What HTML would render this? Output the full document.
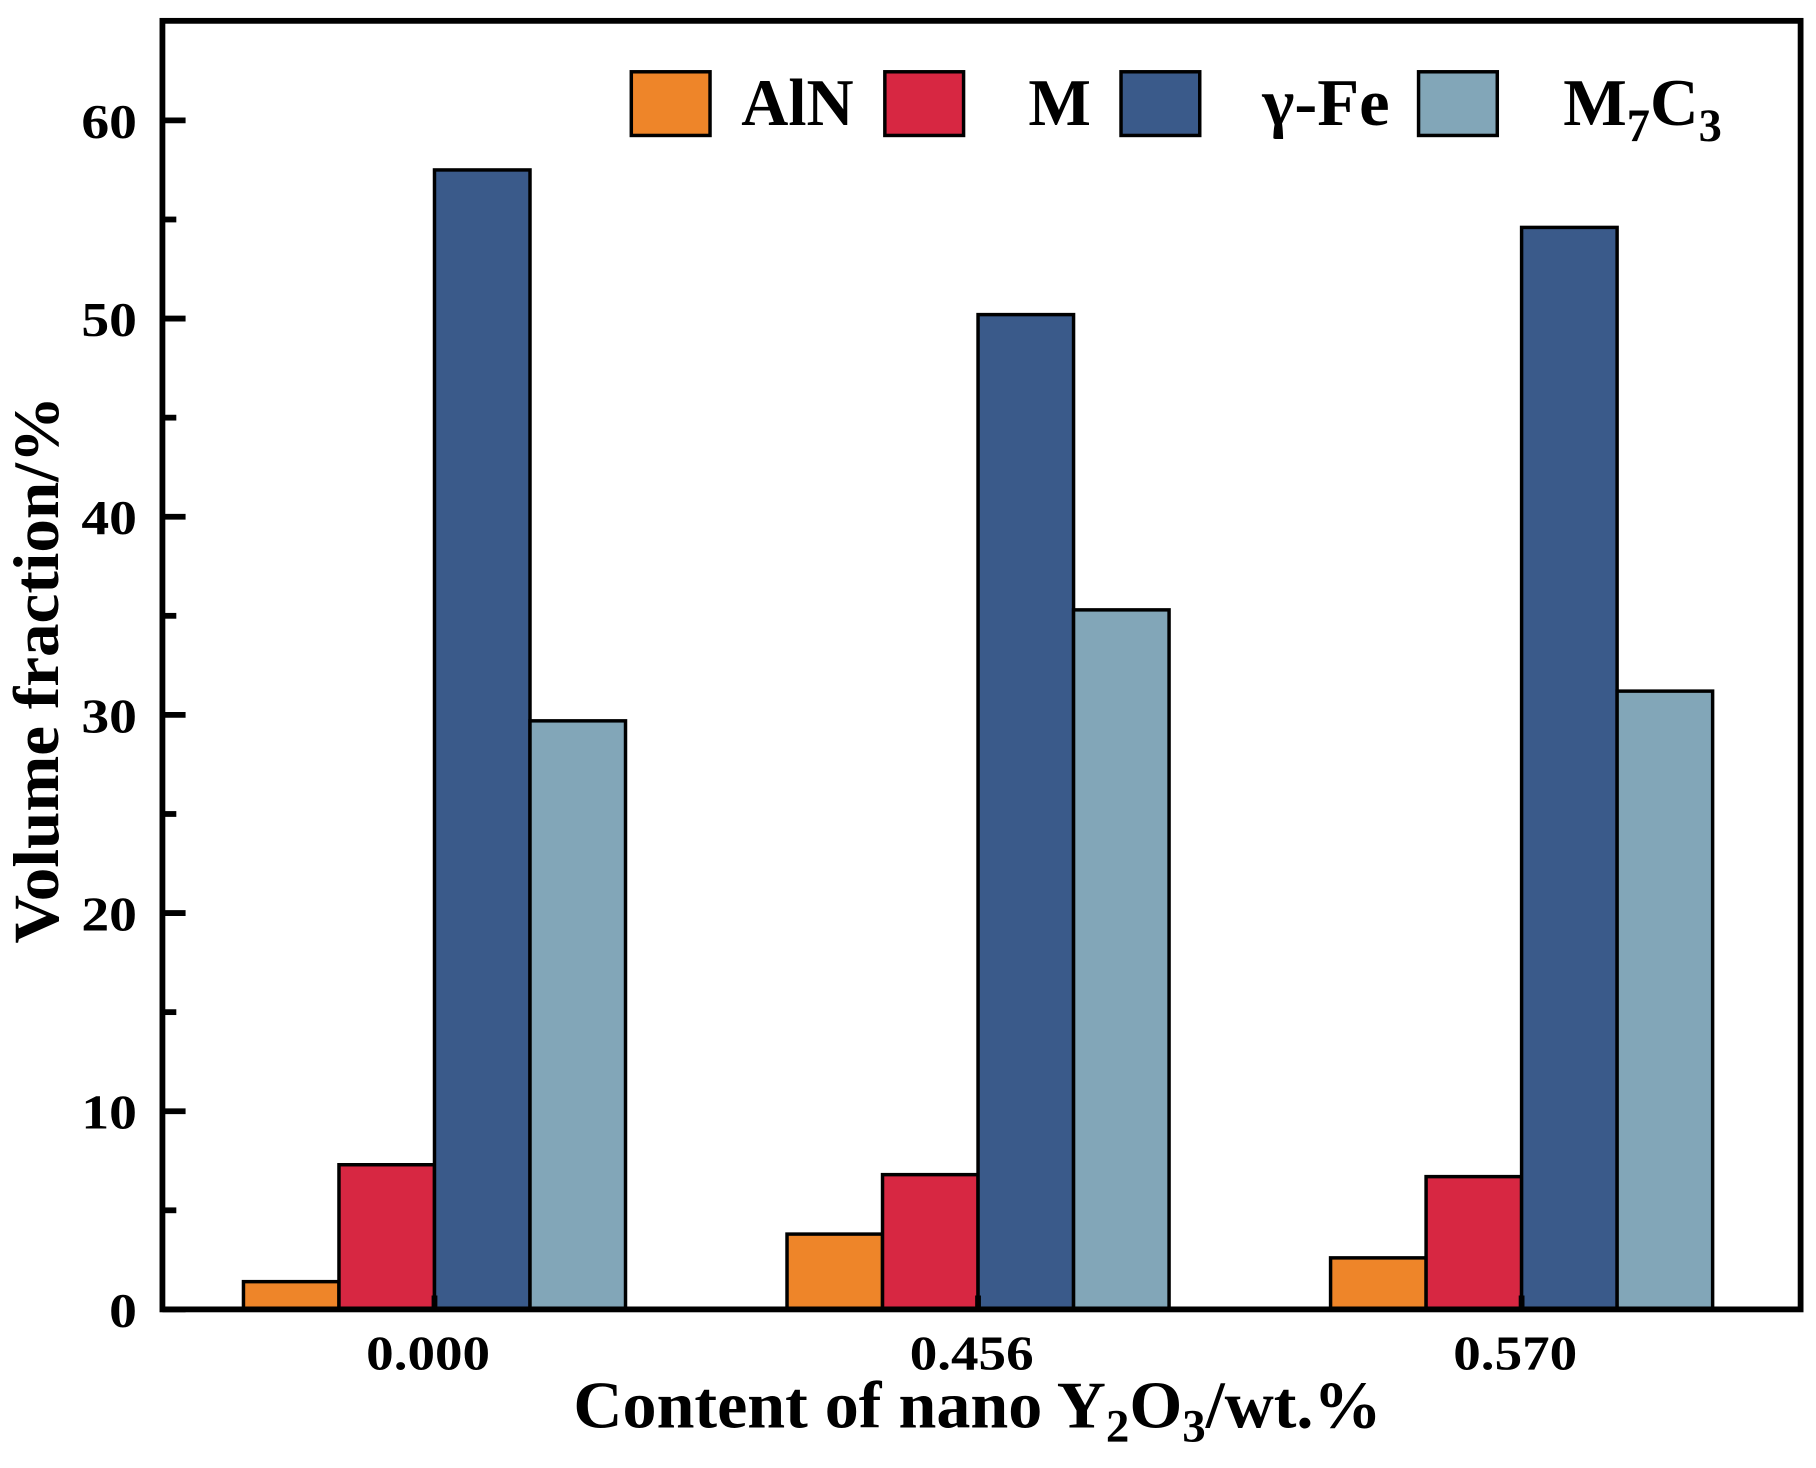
<!DOCTYPE html>
<html><head><meta charset="utf-8"><style>
html,body{margin:0;padding:0;background:#fff;}
svg{display:block;}
text{font-family:"Liberation Serif",serif;font-weight:bold;fill:#000;}
</style></head><body>
<svg id="chart" width="1816" height="1468" viewBox="0 0 1568 1268" xmlns="http://www.w3.org/2000/svg">
<g id="bars"></g>
<g id="axes"></g>
<g id="legend"></g>
</svg>
<script>
const categories = ["0.000", "0.456", "0.570"];
const seriesNames = ["AlN", "M", "γ-Fe", "M7C3"];
const alnValues = [1.4, 3.8, 2.6];
const mValues = [7.3, 6.8, 6.7];
const feValues = [57.5, 50.2, 54.6];
const m7c3Values = [29.7, 35.3, 31.2];
const yTicks = [0, 10, 20, 30, 40, 50, 60];
const colors = ["#EE8529", "#D72742", "#3A5A8A", "#82A6B8"];

const NS = "http://www.w3.org/2000/svg";
const L = 140, R = 1555, T = 18, B = 1131;
function yScale(v){ return B - v * (1131 - 104) / 60; }
const groupCenters0 = 375, groupStep = 469.5, barW = 82.5;
function xCenter(i){ return groupCenters0 + i * groupStep; }
function mk(tag, attrs, parent){ const e=document.createElementNS(NS,tag); for(const k in attrs) e.setAttribute(k, attrs[k]); parent.appendChild(e); return e; }

const series = [alnValues, mValues, feValues, m7c3Values];
const barsG = document.getElementById('bars');
series.forEach((vals, s) => {
  vals.forEach((v, i) => {
    const x = xCenter(i) + (s - 2) * barW;
    const r = mk('rect', {x: x, y: yScale(v), width: barW, height: yScale(0) - yScale(v), fill: colors[s], stroke: '#000', 'stroke-width': 3}, barsG);
    
    
  });
});

const ax = document.getElementById('axes');
const frame = mk('rect', {x: L, y: T, width: R - L, height: B - T, fill: 'none', stroke: '#000', 'stroke-width': 5}, ax);


yTicks.forEach(t => {
  const y = yScale(t);
  const tk = mk('line', {x1: L, x2: L + 20, y1: y, y2: y, stroke: '#000', 'stroke-width': 5}, ax);
  
  
  const s = String(t);
  const w = s.length * 24;
  const tl = mk('text', {x: 118 - w, y: y + 15, 'font-size': 42, textLength: w, lengthAdjust: 'spacingAndGlyphs'}, ax);
  tl.textContent = s;
  
  
  if (t < 60) {
    const mt = mk('line', {x1: L, x2: L + 12, y1: yScale(t + 5), y2: yScale(t + 5), stroke: '#000', 'stroke-width': 5}, ax);
    
    
  }
});
categories.forEach((c, i) => {
  const tk = mk('line', {x1: xCenter(i), x2: xCenter(i), y1: B, y2: B - 12, stroke: '#000', 'stroke-width': 5}, ax);
  
  
  const tl = mk('text', {x: xCenter(i) - 59, y: 1183, 'font-size': 42, textLength: 107, lengthAdjust: 'spacingAndGlyphs'}, ax);
  tl.textContent = c;
  
  
});
const xt = mk('text', {x: 495, y: 1233, 'font-size': 58, textLength: 698, lengthAdjust: 'spacingAndGlyphs'}, ax);
xt.innerHTML = 'Content of nano Y<tspan font-size="40" dy="12">2</tspan><tspan dy="-12">O</tspan><tspan font-size="40" dy="12">3</tspan><tspan dy="-12">/wt.%</tspan>';


const yt = mk('text', {x: -815, y: 50, 'font-size': 56, textLength: 473, lengthAdjust: 'spacingAndGlyphs', transform: 'rotate(-90)'}, ax);
yt.textContent = 'Volume fraction/%';



const lg = document.getElementById('legend');
const boxX = [545, 764, 968, 1225];
const labX = [640, 888, 1090, 1350];
const labW = [97, 54, 110, 137];
seriesNames.forEach((n, s) => {
  const b = mk('rect', {x: boxX[s], y: 62, width: 68, height: 55, fill: colors[s], stroke: '#000', 'stroke-width': 3}, lg);
  
  
  const t = mk('text', {x: labX[s], y: 108, 'font-size': 58, textLength: labW[s], lengthAdjust: 'spacingAndGlyphs'}, lg);
  if (n === 'M7C3') t.innerHTML = 'M<tspan font-size="40" dy="14">7</tspan><tspan dy="-14">C</tspan><tspan font-size="40" dy="14">3</tspan>';
  else t.textContent = n;
  
  
});
</script>
</body></html>
